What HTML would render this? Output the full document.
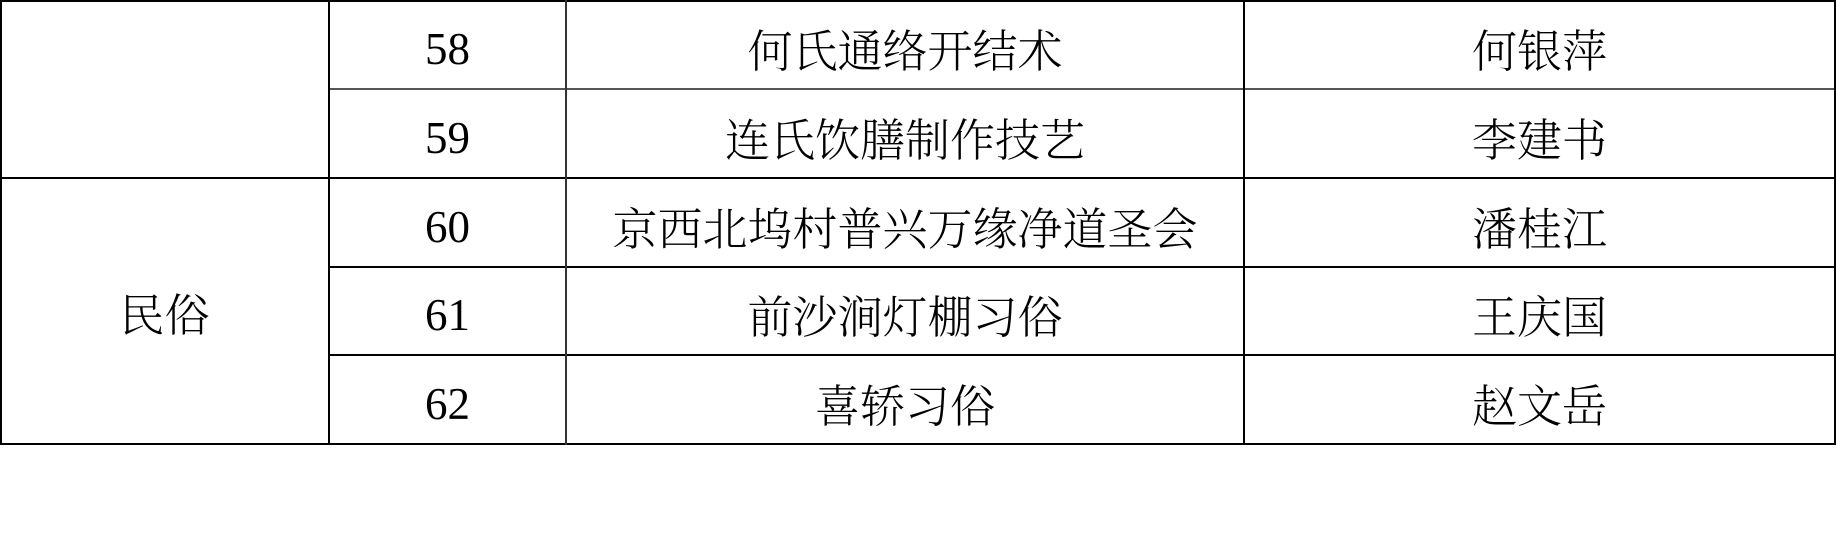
<!DOCTYPE html>
<html><head><meta charset="utf-8"><style>
body{margin:0;width:1836px;height:557px;background:#fff;position:relative;overflow:hidden;font-family:"Liberation Serif","Noto Serif CJK SC",serif;}
.h,.v{position:absolute;background:#000;}
.t{position:absolute;text-align:center;font-size:45px;line-height:45px;color:#000;font-weight:300;}
</style></head><body>
<div class="h" style="left:0;top:0;width:1836px;height:2px"></div>
<div class="h" style="left:329px;top:88px;width:1507px;height:2px;background:#555"></div>
<div class="h" style="left:0;top:177px;width:1836px;height:2px"></div>
<div class="h" style="left:329px;top:266px;width:1507px;height:2px"></div>
<div class="h" style="left:329px;top:354px;width:1507px;height:2px"></div>
<div class="h" style="left:0;top:443px;width:1836px;height:2px"></div>
<div class="v" style="left:0;top:0;width:2px;height:445px"></div>
<div class="v" style="left:328px;top:0;width:2px;height:445px"></div>
<div class="v" style="left:565px;top:0;width:2px;height:445px;background:#333"></div>
<div class="v" style="left:1243px;top:0;width:2px;height:445px"></div>
<div class="v" style="left:1834px;top:0;width:2px;height:445px"></div>

<div class="t" style="left:0;width:329px;top:294px">民俗</div>

<div class="t" style="left:329px;width:237px;top:27px">58</div>
<div class="t" style="left:329px;width:237px;top:116px">59</div>
<div class="t" style="left:329px;width:237px;top:205px">60</div>
<div class="t" style="left:329px;width:237px;top:293px">61</div>
<div class="t" style="left:329px;width:237px;top:382px">62</div>

<div class="t" style="left:566px;width:678px;top:30px">何氏通络开结术</div>
<div class="t" style="left:566px;width:678px;top:119px">连氏饮膳制作技艺</div>
<div class="t" style="left:566px;width:678px;top:208px">京西北坞村普兴万缘净道圣会</div>
<div class="t" style="left:566px;width:678px;top:296px">前沙涧灯棚习俗</div>
<div class="t" style="left:566px;width:678px;top:385px">喜轿习俗</div>

<div class="t" style="left:1244px;width:591px;top:30px">何银萍</div>
<div class="t" style="left:1244px;width:591px;top:119px">李建书</div>
<div class="t" style="left:1244px;width:591px;top:208px">潘桂江</div>
<div class="t" style="left:1244px;width:591px;top:296px">王庆国</div>
<div class="t" style="left:1244px;width:591px;top:385px">赵文岳</div>
</body></html>
